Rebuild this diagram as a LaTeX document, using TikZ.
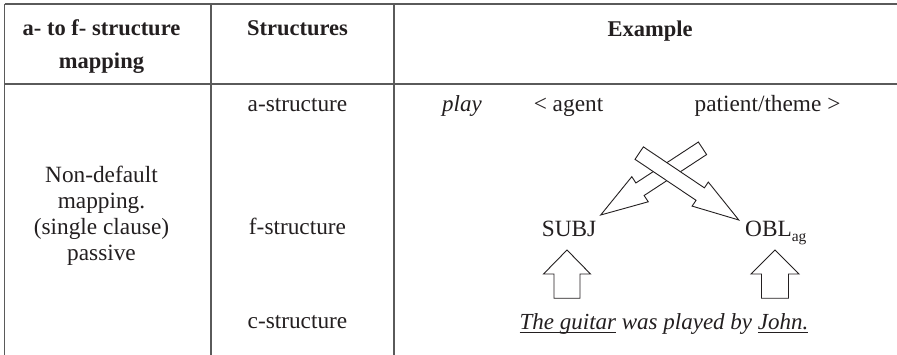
\documentclass[tikz,border=0pt]{standalone}
\usepackage{fontspec}
\setmainfont{LiberationSerif}[Extension=.ttf, UprightFont=*-Regular, BoldFont=*-Bold, ItalicFont=*-Italic, BoldItalicFont=*-BoldItalic]
\usetikzlibrary{calc}
\definecolor{ink}{HTML}{231F20}
\definecolor{rulecol}{HTML}{5A5A5A}
\newcommand\ulin[1]{\setbox0\hbox{#1}\rlap{\rule[-2.6pt]{\wd0}{1pt}}\box0{}}
% tail, tip, shaft half width, head half width, head length
\newcommand\blockarrow[5]{%
  \coordinate (hb) at ($(#2)!#5!(#1)$);
  \draw[arrowbox] ($(#1)!#3!90:(#2)$) -- ($(hb)!#3!90:(#2)$) -- ($(hb)!#4!90:(#2)$) -- (#2)
    -- ($(hb)!#4!-90:(#2)$) -- ($(hb)!#3!-90:(#2)$) -- ($(#1)!#3!-90:(#2)$) -- cycle;
}
\begin{document}
\begin{tikzpicture}[x=1pt,y=-1pt,
  every node/.style={inner sep=0pt, text=ink, font=\fontsize{23.3}{26}\selectfont},
  hd/.style={font=\fontsize{22.5}{26}\selectfont\bfseries},
  it/.style={font=\fontsize{23}{26}\selectfont\itshape},
  gridline/.style={draw=rulecol, line width=1.3pt},
  arrowbox/.style={draw=ink, line width=0.9pt, fill=white, line join=miter}]
\useasboundingbox (0,0) rectangle (897,355);
\fill[white] (0,0) rectangle (897,355);
% table rules
\draw[gridline] (4.5,4) -- (897,4);
\draw[gridline] (4.5,84) -- (897,84);
\draw[gridline] (4.5,4) -- (4.5,355);
\draw[gridline] (211,4) -- (211,355);
\draw[gridline] (394,4) -- (394,355);
% header
\node[hd, anchor=base] (h1a) at (101.5,36) {a- to f- structure};
\node[hd, anchor=base] (h1b) at (101.5,68.5) {mapping};
\node[hd, anchor=base] (h2) at (297.5,36) {Structures};
\node[hd, anchor=base] (h3) at (650,37) {Example};
% column 1
\node[anchor=base] (c1a) at (101.5,183) {Non-default};
\node[anchor=base] (c1b) at (101.5,209) {mapping.};
\node[anchor=base] (c1c) at (101.5,235) {(single clause)};
\node[anchor=base] (c1d) at (101.5,261) {passive};
% column 2
\node[anchor=base] (astr) at (297.5,112) {a-structure};
\node[anchor=base] (fstr) at (297.5,235) {f-structure};
\node[anchor=base] (cstr) at (297.5,329) {c-structure};
% example
\node[it, anchor=base] (play) at (462,112) {play};
\node[anchor=base] (agent) at (568.5,112) {< agent};
\node[anchor=base] (patient) at (767.5,112) {patient/theme >};
\node[anchor=base] (subj) at (569,237) {SUBJ};
\node[anchor=base west] (obl) at (745,237) {OBL\raisebox{-5pt}{\fontsize{15.5}{15.5}\selectfont ag}};
\node[it, anchor=base] (sent) at (664,330) {\ulin{The guitar} was played by \ulin{John.}};
% crossing arrows
\coordinate (aT) at (702.5,148.3);
\coordinate (aP) at (600.7,215);
\coordinate (bT) at (639.2,153.1);
\coordinate (bP) at (738.8,220);
\blockarrow{aT}{aP}{7.5pt}{15pt}{47pt}
\blockarrow{bT}{bP}{7.5pt}{14.5pt}{46.5pt}
% up arrows
\coordinate (u1T) at (567,298.3);
\coordinate (u1P) at (567,250);
\coordinate (u2T) at (775,298.3);
\coordinate (u2P) at (775,250);
\blockarrow{u1T}{u1P}{13pt}{23.5pt}{24pt}
\blockarrow{u2T}{u2P}{13.5pt}{24pt}{24pt}
\end{tikzpicture}
\end{document}
